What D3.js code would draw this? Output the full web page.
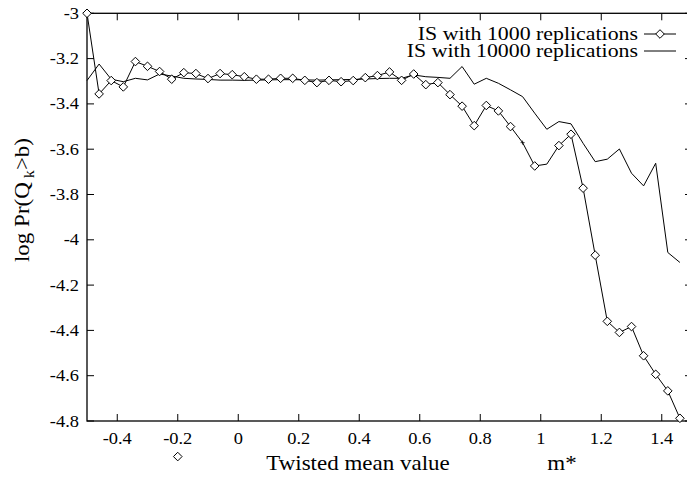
<!DOCTYPE html>
<html lang="en">
<head>
<meta charset="UTF-8">
<title>IS estimate vs twisted mean</title>
<script src="https://d3js.org/d3.v7.min.js"></script>
<style>
    body { margin: 0; background: #fff; }
    svg { display: block; }
    text { font-family: "Liberation Serif", "Times New Roman", serif; fill: #000; }
</style>
</head>
<body>
<div id="chart"></div>
<script>
// x grid: twisted mean value m*, step 0.04
const xValues = d3.range(50).map(i => +(-0.5 + 0.04 * i).toFixed(2));

// IS with 1000 replications (diamonds)
const is1000 = [
    -3.000, -3.356, -3.297, -3.325, -3.213, -3.234, -3.257, -3.291, -3.262, -3.266,
    -3.288, -3.266, -3.271, -3.280, -3.291, -3.291, -3.287, -3.287, -3.296, -3.306,
    -3.296, -3.302, -3.297, -3.284, -3.275, -3.259, -3.296, -3.268, -3.315, -3.306,
    -3.359, -3.410, -3.496, -3.407, -3.431, -3.500, -3.571, -3.674, -3.666, -3.584,
    -3.534, -3.772, -4.068, -4.360, -4.409, -4.383, -4.512, -4.594, -4.667, -4.788
];

// IS with 10000 replications (plain line)
const is10000 = [
    -3.297, -3.224, -3.291, -3.302, -3.287, -3.294, -3.268, -3.277, -3.287, -3.290,
    -3.292, -3.295, -3.295, -3.296, -3.295, -3.294, -3.293, -3.293, -3.294, -3.295,
    -3.294, -3.293, -3.292, -3.290, -3.288, -3.287, -3.287, -3.272, -3.280, -3.283,
    -3.287, -3.235, -3.313, -3.287, -3.309, -3.338, -3.368, -3.441, -3.512, -3.478,
    -3.488, -3.574, -3.655, -3.644, -3.599, -3.706, -3.762, -3.662, -4.056, -4.100
];

const xTicks = [-0.4, -0.2, 0, 0.2, 0.4, 0.6, 0.8, 1, 1.2, 1.4];
const yTicks = [-3, -3.2, -3.4, -3.6, -3.8, -4, -4.2, -4.4, -4.6, -4.8];
const legendLabels = ["IS with 1000 replications", "IS with 10000 replications"];
const strayPoint = [-0.2, -4.957];   // stray marker drawn under the axis in the original

const width = 687, height = 491;
const mLeft = 87, mRight = 692, mTop = 13.3, mBottom = 421;
const stretch = 1.15;   // the original text is a bit wide

const svg = d3.select("#chart").append("svg")
    .attr("width", width).attr("height", height);

const x = d3.scaleLinear().domain([-0.5, 1.5]).range([mLeft, mRight]);
const y = d3.scaleLinear().domain([-4.8, -3]).range([mBottom, mTop]);

function label(g, tx, ty, str, size, anchor) {
    return g.append("text")
        .attr("transform", `translate(${tx},${ty}) scale(${stretch},1)`)
        .attr("text-anchor", anchor)
        .style("font-size", size + "px")
        .text(str);
}

// frame
svg.append("rect")
    .attr("x", mLeft).attr("y", mTop)
    .attr("width", mRight - mLeft).attr("height", mBottom - mTop)
    .attr("fill", "none").attr("stroke", "#000").attr("stroke-width", 1.3);

const axes = svg.append("g").attr("stroke", "#000").attr("stroke-width", 1);
const tl = 7;
xTicks.forEach(t => {
    axes.append("line").attr("x1", x(t)).attr("x2", x(t)).attr("y1", mBottom).attr("y2", mBottom - tl);
    axes.append("line").attr("x1", x(t)).attr("x2", x(t)).attr("y1", mTop).attr("y2", mTop + tl);
    label(svg, x(t), 444, String(t), 16, "middle");
});
yTicks.forEach(t => {
    axes.append("line").attr("x1", mLeft).attr("x2", mLeft + tl).attr("y1", y(t)).attr("y2", y(t));
    axes.append("line").attr("x1", mRight).attr("x2", mRight - tl).attr("y1", y(t)).attr("y2", y(t));
    label(svg, 79, y(t) + 5.5, String(t), 16, "end");
});

// axis titles
label(svg, 358, 470, "Twisted mean value", 20, "middle");
label(svg, 562, 470, "m*", 20, "middle");
const yl = svg.append("text")
    .attr("transform", `translate(29,200) rotate(-90) scale(${stretch},1)`)
    .attr("text-anchor", "middle")
    .style("font-size", "20px");
yl.append("tspan").text("log Pr(Q");
yl.append("tspan").attr("dy", 5).style("font-size", "14px").text(" k");
yl.append("tspan").attr("dy", -5).text(">b)");

// series
const line = d3.line().x(d => x(d[0])).y(d => y(d[1]));
const s1000 = xValues.map((v, i) => [v, is1000[i]]);
const s10000 = xValues.map((v, i) => [v, is10000[i]]);

svg.append("path").datum(s10000)
    .attr("d", line).attr("fill", "none").attr("stroke", "#000").attr("stroke-width", 1);
svg.append("path").datum(s1000)
    .attr("d", line).attr("fill", "none").attr("stroke", "#000").attr("stroke-width", 1);

const diamond = (cx, cy, r) => `M${cx},${cy - r}L${cx + r},${cy}L${cx},${cy + r}L${cx - r},${cy}Z`;
svg.append("g").selectAll("path")
    .data(s1000.filter((d, i) => i !== 36 && i !== 38))
    .join("path")
    .attr("d", d => diamond(x(d[0]), y(d[1]), 4.3))
    .attr("fill", "#fff").attr("stroke", "#000").attr("stroke-width", 1);

// small cross at the 37th point, as in the original
const c = s1000[36];
svg.append("path")
    .attr("d", `M${x(c[0]) - 2},${y(c[1])}h4M${x(c[0])},${y(c[1]) - 2}v4`)
    .attr("stroke", "#000").attr("stroke-width", 0.8);

svg.append("path")
    .attr("d", diamond(x(strayPoint[0]), y(strayPoint[1]), 4.3))
    .attr("fill", "none").attr("stroke", "#000").attr("stroke-width", 1);

// legend
const legX1 = 644, legX2 = 676;
const legRows = [34, 51];
legendLabels.forEach((lab, i) => {
    label(svg, 638, legRows[i] + 6, lab, 19, "end");
    svg.append("line")
        .attr("x1", legX1).attr("x2", legX2)
        .attr("y1", legRows[i]).attr("y2", legRows[i])
        .attr("stroke", "#000").attr("stroke-width", 1);
});
svg.append("path")
    .attr("d", diamond((legX1 + legX2) / 2, legRows[0], 4.3))
    .attr("fill", "#fff").attr("stroke", "#000").attr("stroke-width", 1);
</script>
</body>
</html>
